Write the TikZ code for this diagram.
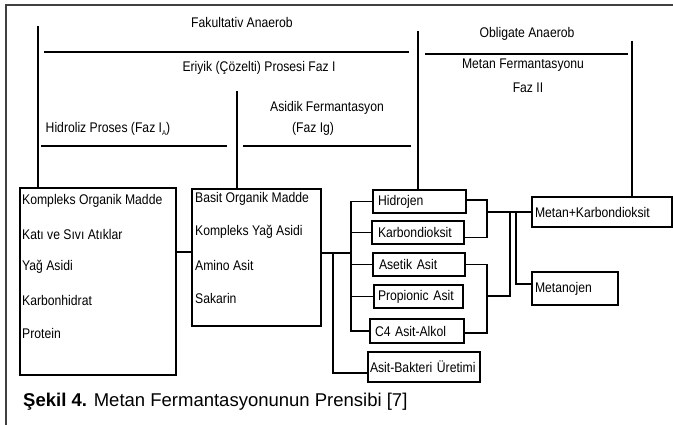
\documentclass[tikz,border=0pt]{standalone}
\usepackage{fontspec}
\setmainfont{Liberation Sans}
\newfontfamily\narrowsans{Liberation Sans}[FakeStretch=0.87]
\begin{document}
\begin{tikzpicture}[x=1pt,y=-1pt,
  every node/.style={font=\narrowsans\fontsize{14}{16}\selectfont, inner sep=0pt},
  wire/.style={draw=black, line width=1.1pt},
  framerule/.style={draw=black!75, line width=1.8pt},
  box/.style={draw=black, line width=1.1pt, rectangle, inner sep=0pt},
  mbox/.style={box, align=left, inner ysep=0pt},
  item/.style={anchor=west}]
\useasboundingbox (0,0) rectangle (673,425);

% outer rule
\draw[framerule] (6,425) -- (6,5) -- (673,5);

% phase headings
\node (fak) at (242,22) {Fakultativ Anaerob};
\node (eri) at (259,68) {Eriyik (Çözelti) Prosesi Faz I};
\node (hid-h) at (108,129) {Hidroliz Proses (Faz I{\fontsize{7}{7}\selectfont\raisebox{-2.5pt}{A}})};
\node (asi-h1) at (327,108) {Asidik Fermantasyon};
\node (asi-h2) at (313,129) {(Faz Ig)};
\node (obl) at (527,34) {Obligate Anaerob};
\node (met-h1) at (523,65) {Metan Fermantasyonu};
\node (met-h2) at (528,88) {Faz II};

% first stage: complex organic matter
\node[box, minimum width=156pt, minimum height=187pt] (organik) at (98,281.5) {};
\node[item] (o1) at (22,201) {Kompleks Organik Madde};
\node[item] (o2) at (22,234) {Katı ve Sıvı Atıklar};
\node[item] (o3) at (22,267) {Yağ Asidi};
\node[item] (o4) at (22,300) {Karbonhidrat};
\node[item] (o5) at (22,333) {Protein};

% second stage: simple organic matter
\node[box, minimum width=129pt, minimum height=137pt] (basit) at (256.5,257.5) {};
\node[item] (b1) at (195,199) {Basit Organik Madde};
\node[item] (b2) at (195,232) {Kompleks Yağ Asidi};
\node[item] (b3) at (195,265) {Amino Asit};
\node[item] (b4) at (195,298) {Sakarin};

% acid products
\node[mbox, minimum width=93pt, minimum height=23pt, inner xsep=5pt, text width=83pt] (hid) at (419.5,201.5) {Hidrojen};
\node[mbox, minimum width=92pt, minimum height=23pt, inner xsep=6pt, text width=80pt] (kar) at (418,232.5) {Karbondioksit};
\node[mbox, minimum width=92pt, minimum height=23pt, inner xsep=6pt, text width=80pt] (ase) at (419,264.5) {Asetik Asit};
\node[mbox, minimum width=89pt, minimum height=23pt, inner xsep=4pt, text width=81pt] (pro) at (418.5,296.5) {Propionic Asit};
\node[mbox, minimum width=94pt, minimum height=24pt, inner xsep=5pt, text width=84pt] (c4) at (417,331) {C4 Asit-Alkol};
\node[mbox, minimum width=112pt, minimum height=30pt, inner xsep=2pt, text width=108pt] (asit) at (424,367) {Asit-Bakteri Üretimi};

% methane stage
\node[mbox, minimum width=140pt, minimum height=30pt, inner xsep=3pt, text width=134pt] (metan) at (602,212) {Metan+Karbondioksit};
\node[mbox, minimum width=86pt, minimum height=33pt, inner xsep=3pt, text width=80pt] (metanojen) at (575,288.5) {Metanojen};

% phase dividers
\coordinate (fa) at (38,26);
\draw[wire] (fa) -- (fa |- organik.north);
\coordinate (l2a) at (44,52);  \coordinate (l2b) at (409,52);
\draw[wire] (l2a) -- (l2b);
\coordinate (hy) at (237,91);
\draw[wire] (hy) -- (hy |- basit.north);
\coordinate (l4a) at (41,146);  \coordinate (l4b) at (227,146);
\draw[wire] (l4a) -- (l4b);
\coordinate (l5a) at (243,146); \coordinate (l5b) at (411,146);
\draw[wire] (l5a) -- (l5b);
\coordinate (ob) at (418,31);
\draw[wire] (ob) -- (ob |- hid.north);
\coordinate (l7a) at (425,54);  \coordinate (l7b) at (628,54);
\draw[wire] (l7a) -- (l7b);
\coordinate (mf) at (632,41);
\draw[wire] (mf) -- (mf |- metan.north);

% stage links
\coordinate (j0) at (184,252);
\draw[wire] (organik.east |- j0) -- (basit.west |- j0);
\coordinate (j1) at (333,253);
\coordinate (bus) at (351,253);
\draw[wire] (basit.east |- j1) -- (bus);
\coordinate (j2) at (333,373);
\draw[wire] (j1) -- (j2) -- (asit.west |- j2);

% fan-out to acid products
\draw[wire] (hid.west) -- (hid.west -| bus) -- (c4.west -| bus) -- (c4.west);
\draw[wire] (kar.west) -- (kar.west -| bus);
\draw[wire] (ase.west) -- (ase.west -| bus);
\draw[wire] (pro.west) -- (pro.west -| bus);

% collection towards methane
\coordinate (rx) at (487,0);
\coordinate (m1) at (487,212);
\draw[wire] ([yshift=1.5pt]hid.east) -- ([yshift=1.5pt]hid.east -| rx) -- ([yshift=-5pt]kar.east -| rx) -- ([yshift=-5pt]kar.east);
\draw[wire] (m1) -- (metan.west);
\draw[wire] (ase.east) -- (ase.east -| rx) -- ([yshift=-2pt]c4.east -| rx) -- ([yshift=-2pt]c4.east);
\coordinate (m2) at (487,296);
\coordinate (vx) at (510,0);
\draw[wire] (m2) -- (m2 -| vx) -- (m1 -| vx);
\coordinate (vy) at (516,0);
\draw[wire] (m1 -| vy) -- ([yshift=4.5pt]metanojen.west -| vy) -- ([yshift=4.5pt]metanojen.west);

% caption
\node[anchor=west, font=\fontsize{18.5}{20}\selectfont] (cap) at (23,402) {\textbf{Şekil 4.} Metan Fermantasyonunun Prensibi [7]};
\end{tikzpicture}
\end{document}
